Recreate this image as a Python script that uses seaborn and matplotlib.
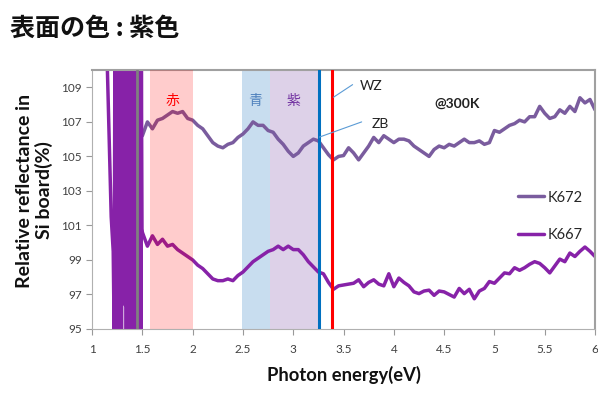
import matplotlib
matplotlib.use("Agg")
import matplotlib.pyplot as plt
import numpy as np
import pandas as pd
import seaborn as sns

# sampled energies (eV) for the smooth part of both spectra
energy = np.round(np.arange(1.50, 6.001, 0.05), 2)

k672 = [106.2, 107.0, 106.6, 107.1, 107.2, 107.4, 107.6, 107.5, 107.6, 107.2,
        107.1, 106.8, 106.6, 106.2, 105.8, 105.6, 105.5, 105.7, 105.8, 106.1,
        106.3, 106.6, 107.0, 106.8, 106.8, 106.5, 106.4, 106.0, 105.7, 105.3,
        105.0, 105.2, 105.6, 105.8, 106.0, 105.9, 105.5, 105.1, 104.8, 105.0,
        105.05, 105.5, 105.2, 104.8, 105.2, 105.6, 106.1, 105.8, 106.2, 106.0,
        105.8, 106.0, 106.0, 105.9, 105.6, 105.4, 105.2, 105.0, 105.4, 105.6,
        105.5, 105.7, 105.6, 105.8, 106.0, 105.8, 105.8, 105.9, 105.7, 105.8,
        106.5, 106.4, 106.6, 106.8, 106.9, 107.1, 107.0, 107.3, 107.3, 107.9,
        107.5, 107.2, 107.3, 107.7, 107.5, 107.9, 107.6, 108.4, 108.1, 108.3,
        107.7]

k667 = [100.6, 99.8, 100.4, 99.9, 100.2, 99.8, 99.9, 99.6, 99.4, 99.2,
        99.0, 98.7, 98.5, 98.2, 97.9, 97.8, 97.8, 97.9, 97.8, 98.1,
        98.3, 98.6, 98.9, 99.1, 99.3, 99.5, 99.6, 99.8, 99.6, 99.8,
        99.6, 99.6, 99.3, 98.9, 98.6, 98.3, 98.2, 97.7, 97.3, 97.5,
        97.55, 97.6, 97.65, 97.85, 97.45, 97.7, 97.85, 97.6, 97.5, 98.2,
        97.45, 97.95, 97.7, 97.5, 97.15, 97.05, 97.2, 97.25, 96.95, 97.2,
        97.15, 97.0, 96.85, 97.35, 97.05, 97.3, 96.75, 97.2, 97.35, 97.75,
        97.65, 97.95, 98.25, 98.2, 98.55, 98.4, 98.55, 98.75, 98.9, 98.8,
        98.55, 98.25, 98.65, 99.05, 98.9, 99.4, 99.2, 99.5, 99.75, 99.5,
        99.2]

# noisy low-energy part of K667 (detector edge)
k667_edge_energy = [1.150, 1.190, 1.210, 1.220, 1.226, 1.232, 1.238, 1.244, 1.250,
                    1.256, 1.262, 1.268, 1.274, 1.280, 1.286, 1.292, 1.298, 1.304,
                    1.310, 1.316, 1.322, 1.328, 1.334, 1.340, 1.346, 1.352, 1.358,
                    1.364, 1.370, 1.376, 1.382, 1.388, 1.394, 1.400, 1.406, 1.412,
                    1.418, 1.424, 1.430, 1.436, 1.442, 1.448, 1.454, 1.460, 1.466,
                    1.472, 1.478, 1.484, 1.490, 1.496]
k667_edge = [110.5, 101.5, 99.5, 94.5, 110.5, 94.5, 110.5, 94.8, 110.5,
             94.5, 110.5, 94.6, 110.5, 94.5, 110.5, 94.7, 110.5, 96.5,
             110.5, 96.8, 110.5, 96.4, 110.5, 94.5, 110.5, 94.5, 110.5,
             94.6, 110.5, 94.5, 110.5, 94.5, 110.5, 94.8, 110.5, 94.5,
             110.5, 94.5, 110.5, 96.3, 110.5, 96.5, 110.5, 94.5, 110.5,
             94.6, 110.5, 94.5, 110.5, 100.8]

# colour bands (eV)
bands = [("赤", 1.58, 2.00), ("青", 2.49, 2.77), ("紫", 2.77, 3.26)]
zb_edge = 3.26
wz_edge = 3.39
cutoff = 1.445

df = pd.concat([
    pd.DataFrame({"energy": energy, "value": k672, "sample": "K672"}),
    pd.DataFrame({"energy": k667_edge_energy + list(energy),
                  "value": k667_edge + k667, "sample": "K667"}),
])

sns.set_theme(style="white")
plt.rcParams["font.family"] = ["Lato", "Noto Sans CJK JP", "DejaVu Sans"]

fig = plt.figure(figsize=(5.98, 3.94), dpi=100)
ax = fig.add_axes([0.154, 0.165, 0.841, 0.657])

sns.lineplot(data=df, x="energy", y="value", hue="sample", sort=False,
             palette={"K672": "#7a5c9e", "K667": "#8722a8"},
             linewidth=2.5, ax=ax, zorder=2, estimator=None)

ax.axvspan(bands[0][1], bands[0][2], color="#ff0000", alpha=0.2, lw=0, zorder=3)
ax.axvspan(bands[1][1], bands[1][2], color="#c8ddef", lw=0, zorder=1)
ax.axvspan(bands[2][1], bands[2][2], color="#ddd1e8", lw=0, zorder=1)

ax.axvline(cutoff, color="#808080", lw=2, zorder=4)
ax.axvline(zb_edge, color="#0070c0", lw=2.2, zorder=4)
ax.axvline(wz_edge, color="#ff0000", lw=2.2, zorder=4)

band_colors = ["#ff0000", "#4f81bd", "#7030a0"]
band_x = [1.80, 2.62, 3.00]
for (name, _, _), c, bx in zip(bands, band_colors, band_x):
    ax.text(bx, 108.2, name, color=c, fontsize=10, ha="center", va="center",
            family=["Noto Sans CJK JP"], zorder=5)

ax.plot([3.40, 3.59], [108.43, 109.16], color="#5b9bd5", lw=0.8, zorder=5)
ax.text(3.66, 109.1, "WZ", fontsize=10, va="center", color="#222222")
ax.plot([3.26, 3.68], [106.12, 107.0], color="#5b9bd5", lw=0.8, zorder=5)
ax.text(3.78, 106.9, "ZB", fontsize=10, va="center", color="#222222")
ax.text(4.63, 108.07, "@300K", fontsize=10, fontweight="bold", ha="center",
        va="center", color="#222222")

ax.set_xlim(1, 6)
ax.set_ylim(95, 110)
ax.set_xticks(np.arange(1, 6.01, 0.5))
ax.set_xticklabels(["1", "1.5", "2", "2.5", "3", "3.5", "4", "4.5", "5", "5.5", "6"])
ax.set_yticks(range(95, 110, 2))
ax.tick_params(axis="both", direction="out", length=4, width=0.8, color="#999999",
               labelsize=8.5, labelcolor="#404040", bottom=True, left=True)
ax.tick_params(axis="x", pad=7)

for side in ["top", "right"]:
    ax.spines[side].set_color("#a0a0a0")
    ax.spines[side].set_linewidth(1.5)
for side in ["left", "bottom"]:
    ax.spines[side].set_color("#b0b0b0")
    ax.spines[side].set_linewidth(0.8)

ax.set_xlabel("Photon energy(eV)", fontsize=13.2, fontweight="bold",
              color="#111111", labelpad=8)
ax.set_ylabel("Relative reflectance in\nSi board(%)", fontsize=14,
              fontweight="bold", color="#111111", linespacing=1.1)
ax.yaxis.set_label_coords(-0.078, 0.535)

ax.legend(loc="upper left", bbox_to_anchor=(0.847, 0.535), frameon=False,
          labelspacing=1.6, handlelength=1.8, handletextpad=0.2,
          borderaxespad=0, borderpad=0, fontsize=10.5)

fig.text(0.017, 0.928, "表面の色 : 紫色", fontsize=18, fontweight="bold",
         family=["Noto Sans CJK JP"], va="center", color="#111111")

fig.savefig("out.png", dpi=100)
